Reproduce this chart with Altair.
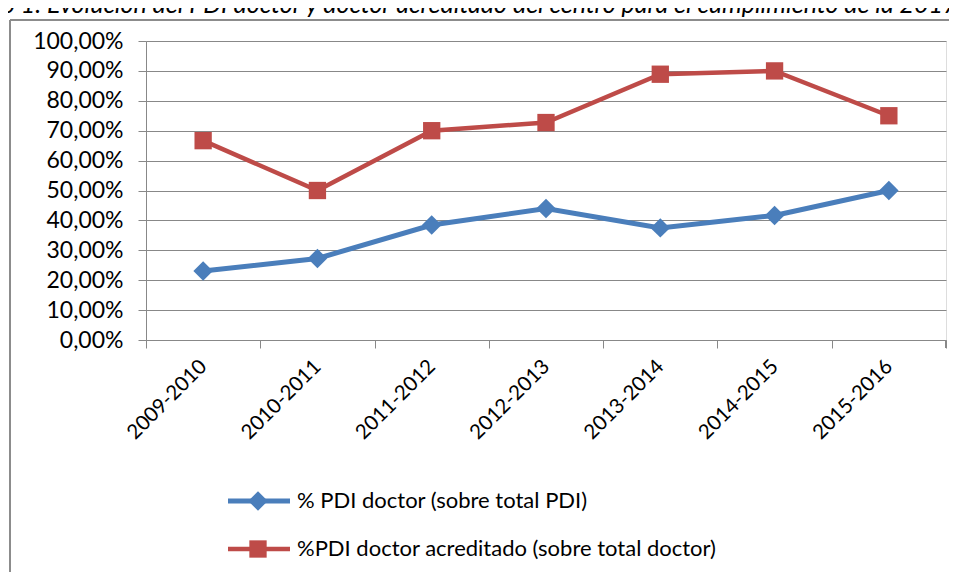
import altair as alt
import pandas as pd

categories = ["2009-2010", "2010-2011", "2011-2012", "2012-2013", "2013-2014", "2014-2015", "2015-2016"]
pdi_doctor = [23.08, 27.27, 38.46, 44.0, 37.5, 41.67, 50.0]
pdi_acreditado = [66.67, 50.0, 70.0, 72.73, 88.89, 90.0, 75.0]
series_names = ["% PDI doctor (sobre total PDI)", "%PDI doctor acreditado (sobre total doctor)"]
colors = ["#4A7EBB", "#BE4B48"]
shapes = ["diamond", "square"]
y_ticks = [0, 10, 20, 30, 40, 50, 60, 70, 80, 90, 100]
title_text = "o 1. Evolución del PDI doctor y doctor acreditado del centro para el cumplimiento de la 2017"

FONT = "Lato"
GRID = "#888888"

df = pd.DataFrame({
    "Curso": categories * 2,
    "Valor": pdi_doctor + pdi_acreditado,
    "Serie": [series_names[0]] * len(categories) + [series_names[1]] * len(categories),
})

W, H = 800, 299

x_enc = alt.X(
    "Curso:N", sort=categories,
    scale=alt.Scale(type="band", domain=categories, paddingInner=0, paddingOuter=0),
    axis=alt.Axis(title=None, tickBand="extent", ticks=True, tickSize=8, tickColor=GRID,
                  domainColor=GRID, labelAngle=-45, labelAlign="right", labelBaseline="middle",
                  labelPadding=15, labelFont=FONT, labelFontSize=20.5, labelColor="#000000",
                  grid=False),
)
y_enc = alt.Y(
    "Valor:Q",
    scale=alt.Scale(domain=[0, 100], nice=False),
    axis=alt.Axis(title=None, values=y_ticks, grid=True, gridColor=GRID, gridWidth=1,
                  domainColor=GRID, tickColor=GRID, tickSize=8, labelPadding=15,
                  labelFont=FONT, labelFontSize=23, labelColor="#000000",
                  labelExpr="replace(format(datum.value, '.2f'), '.', ',') + '%'"),
)
color_enc = alt.Color("Serie:N", scale=alt.Scale(domain=series_names, range=colors), legend=None)

base = alt.Chart(df)
lines = base.mark_line().encode(
    x=x_enc, y=y_enc, color=color_enc,
    strokeWidth=alt.StrokeWidth("Serie:N", scale=alt.Scale(domain=series_names, range=[5, 4.5]), legend=None),
)
points = base.mark_point(filled=True, opacity=1).encode(
    x=x_enc, y=y_enc, color=color_enc,
    shape=alt.Shape("Serie:N", scale=alt.Scale(domain=series_names, range=shapes), legend=None),
    size=alt.Size("Serie:N", scale=alt.Scale(domain=series_names, range=[380, 300]), legend=None),
)

# right end tick of the x axis
end_tick = alt.Chart(pd.DataFrame({"a": [0]})).mark_rule(color=GRID, strokeWidth=1).encode(
    x=alt.value(W - 0.5), y=alt.value(H), y2=alt.value(H + 8))

# outer frame (left and top edges)
frame_top = alt.Chart(pd.DataFrame({"a": [0]})).mark_rule(color="#8c8c8c", strokeWidth=2).encode(
    x=alt.value(-136), x2=alt.value(820), y=alt.value(-21))
frame_left = alt.Chart(pd.DataFrame({"a": [0]})).mark_rule(color="#8c8c8c", strokeWidth=2).encode(
    x=alt.value(-136), y=alt.value(-21), y2=alt.value(620))

title = alt.Chart(pd.DataFrame({"t": [title_text]})).mark_text(
    font=FONT, fontSize=25, fontStyle="italic", align="left", baseline="alphabetic", color="#000000"
).encode(text="t:N", x=alt.value(-144), y=alt.value(-28))

legend_layers = []
for i, name in enumerate(series_names):
    ldf = pd.DataFrame({"Serie": [name]})
    ly = 460 + 48 * i
    legend_layers.append(alt.Chart(ldf).mark_rule(color=colors[i], strokeWidth=5 if i == 0 else 4.5).encode(
        x=alt.value(82), x2=alt.value(144), y=alt.value(ly)))
    legend_layers.append(alt.Chart(ldf).mark_point(filled=True, opacity=1, color=colors[i],
                                                    shape=shapes[i], size=380 if i == 0 else 300).encode(
        x=alt.value(112), y=alt.value(ly)))
    legend_layers.append(alt.Chart(ldf).mark_text(font=FONT, fontSize=22, align="left", baseline="middle",
                                                   color="#000000").encode(
        text="Serie:N", x=alt.value(151), y=alt.value(ly)))

chart = alt.layer(
    frame_top, frame_left, title, lines, points, end_tick, *legend_layers
).properties(
    width=W, height=H,
    autosize=alt.AutoSizeParams(type="none"),
    padding={"left": 138, "top": 33, "right": 3, "bottom": 232},
).configure_view(stroke=None).configure(background="white")

chart.save("out.html", embed_options={"renderer": "svg", "actions": False})
